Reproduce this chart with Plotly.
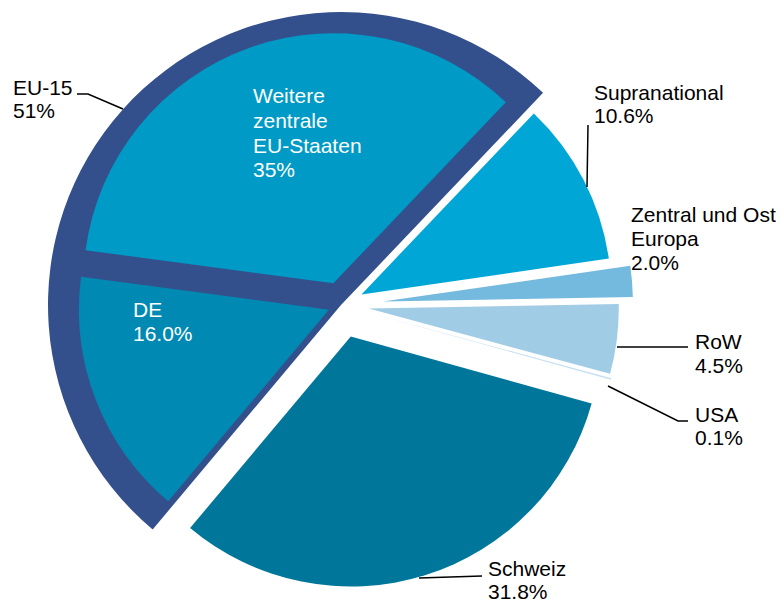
import plotly.graph_objects as go

# The page body keeps the browser's default 8px margin, so the figure is
# drawn 8px in from the top-left corner of the window.
PAGE_W, PAGE_H = 784, 603
OFFSET = 8
W, H = PAGE_W - OFFSET, PAGE_H - OFFSET

# ---------------- data ----------------
categories = ["Supranational", "Zentral und Ost Europa", "RoW", "USA",
              "Schweiz", "DE", "Weitere zentrale EU-Staaten"]
shares = [10.6, 2.0, 4.5, 0.1, 31.8, 16.0, 35.0]
share_labels = ["10.6%", "2.0%", "4.5%", "0.1%", "31.8%", "16.0%", "35%"]

group_name = "EU-15"
group_members = ["DE", "Weitere zentrale EU-Staaten"]
group_label = "51%"

# ---------------- styles ----------------
colors = ["#00a6d6", "#74b9de", "#a1cce5", "#c6e0f1", "#00769a", "#0089b3", "#009ac6"]
group_color = "#34508c"
font_family = "Liberation Sans, Arial, sans-serif"
font_size = 21

cx, cy = 341, 305          # pie centre (window px)
R_outer = 293              # EU-15 background radius (px)
R_inner = 250              # slice radius (px)
pull_px = [23, 42, 28, 30, 33, 13, 23]
rotation_inner = 43.6


def px(x):
    return (x - OFFSET) / W


def py(y):
    return 1 - (y - OFFSET) / H


group_value = sum(v for c, v in zip(categories, shares) if c in group_members)
rest_value = sum(shares) - group_value
rotation_outer = rotation_inner - group_value / sum(shares) * 360

maxpull = max(pull_px) / R_inner
half_in = R_inner * (1 + maxpull)
pulls = [p / R_inner for p in pull_px]

fig = go.Figure()

# EU-15 background slice
fig.add_trace(go.Pie(
    labels=[group_name, "rest"],
    values=[group_value, rest_value],
    sort=False,
    direction="clockwise",
    rotation=rotation_outer,
    marker=dict(colors=[group_color, "rgba(0,0,0,0)"], line=dict(width=0)),
    textinfo="none",
    hoverinfo="skip",
    showlegend=False,
    domain=dict(x=[px(cx - R_outer), px(cx + R_outer)],
                y=[py(cy + R_outer), py(cy - R_outer)]),
))

# individual slices
fig.add_trace(go.Pie(
    labels=categories,
    values=shares,
    sort=False,
    direction="clockwise",
    rotation=rotation_inner,
    pull=pulls,
    marker=dict(colors=colors, line=dict(width=0)),
    textinfo="none",
    hoverinfo="label+percent",
    showlegend=False,
    domain=dict(x=[px(cx - half_in), px(cx + half_in)],
                y=[py(cy + half_in), py(cy - half_in)]),
))

annotations = []


def add_label(lines, x, baselines, color="#000000"):
    for text, b in zip(lines, baselines):
        annotations.append(dict(
            x=px(x), y=py(b - 7.3), xref="paper", yref="paper",
            text=text, showarrow=False, xanchor="left", yanchor="middle",
            align="left", borderpad=0,
            font=dict(family=font_family, size=font_size, color=color),
        ))


add_label([group_name, group_label], 12, [95, 118])
add_label(["Weitere", "zentrale", "EU-Staaten", share_labels[6]], 252, [103, 128, 153, 177], "#ffffff")
add_label([categories[5], share_labels[5]], 132, [317, 341], "#ffffff")
add_label([categories[0], share_labels[0]], 593, [100, 123])
add_label(["Zentral und Ost", "Europa", share_labels[1]], 630, [222, 246, 270])
add_label([categories[2], share_labels[2]], 694, [349, 373])
add_label([categories[3], share_labels[3]], 694, [422, 445])
add_label([categories[4], share_labels[4]], 487, [576, 599])

leaders = [
    [(77, 94), (88, 94), (123, 109)],
    [(588, 125), (587, 187)],
    [(617, 347), (688, 347)],
    [(608, 386), (678, 421), (688, 421)],
    [(419, 578), (482, 576)],
]
shapes = []
for pts in leaders:
    path = "M " + " L ".join(f"{px(x)},{py(y)}" for x, y in pts)
    shapes.append(dict(type="path", xref="paper", yref="paper", path=path,
                       line=dict(color="#000000", width=1.5)))

fig.update_layout(
    width=W, height=H, autosize=False,
    margin=dict(l=0, r=0, t=0, b=0),
    paper_bgcolor="#ffffff", plot_bgcolor="#ffffff",
    showlegend=False,
    annotations=annotations,
    shapes=shapes,
    font=dict(family=font_family, size=font_size),
)

fig.write_html("out.html")
